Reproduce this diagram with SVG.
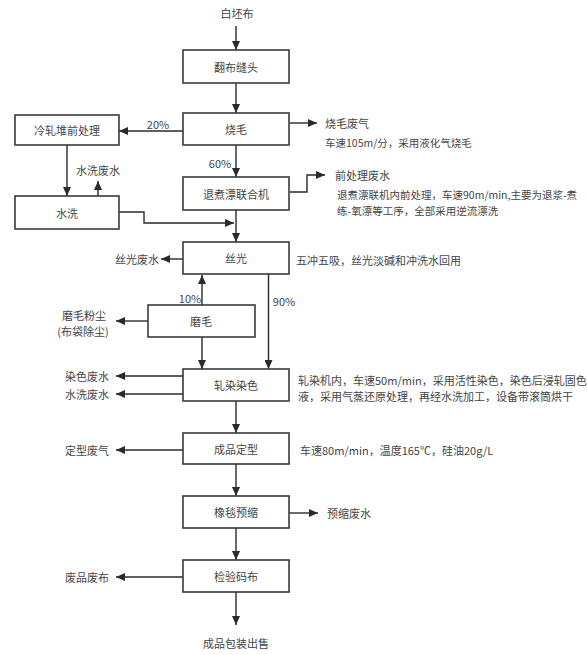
<svg xmlns="http://www.w3.org/2000/svg" width="587" height="655" viewBox="0 0 587 655">
<defs>
<marker id="ah" markerUnits="userSpaceOnUse" markerWidth="9" markerHeight="8" refX="9" refY="4" orient="auto">
<path d="M0,0 L9,4 L0,8 z" fill="#2a2a2a"/>
</marker>
<style>
.box{fill:#fff;stroke:#3a3a3a;stroke-width:1.6}
.c{fill:none;stroke:#2a2a2a;stroke-width:1.4;marker-end:url(#ah)}
text{font-family:"Noto Sans CJK SC","Noto Sans",sans-serif;font-size:11px;fill:#444;dominant-baseline:central}
.m{text-anchor:middle}
.e{text-anchor:end}
.s{font-size:10.5px}
</style>
</defs>
<rect width="587" height="655" fill="#fff"/>
<g id="connectors">
<path class="c" d="M236,26 V50"/>
<path class="c" d="M236,83 V113"/>
<path class="c" d="M183,131 H119"/>
<path class="c" d="M290,123 H317"/>
<path class="c" d="M236,145 V177"/>
<path class="c" d="M290,192 H307 V175 H325"/>
<path class="c" d="M67,145 V196"/>
<path class="c" d="M98,196 V181"/>
<path class="c" d="M119,212 H144 V223 H234"/>
<path class="c" d="M236,210 V242"/>
<path class="c" d="M183,259 H161"/>
<path class="c" d="M202,305 V275"/>
<path class="c" d="M268.5,274 V369"/>
<path class="c" d="M202,337 V369"/>
<path class="c" d="M148,321 H116"/>
<path class="c" d="M183,376 H116"/>
<path class="c" d="M183,394 H116"/>
<path class="c" d="M236,401 V433"/>
<path class="c" d="M183,450 H116"/>
<path class="c" d="M236,464 V496"/>
<path class="c" d="M289,513 H318"/>
<path class="c" d="M236,528 V560"/>
<path class="c" d="M183,577 H116"/>
<path class="c" d="M236,592 V625"/>
<text class="m" x="158" y="124">20%</text>
<text class="m" x="220" y="163">60%</text>
<text class="m" x="190" y="298">10%</text>
<text class="m" x="284" y="301">90%</text>
</g>
<g id="start"><text class="m" x="237" y="13">白坯布</text></g>
<g id="n1"><rect class="box" x="183" y="50" width="106" height="33"/><text class="m" x="236" y="67">翻布缝头</text></g>
<g id="n2"><rect class="box" x="183" y="113" width="106" height="32"/><text class="m" x="236" y="129">烧毛</text></g>
<g id="n2out"><text x="325" y="123">烧毛废气</text><text class="s" x="325" y="142">车速105m/分，采用液化气烧毛</text></g>
<g id="n3"><rect class="box" x="15" y="115" width="104" height="30"/><text class="m" x="67" y="130">冷轧堆前处理</text></g>
<g id="n4"><rect class="box" x="15" y="196" width="104" height="33"/><text class="m" x="67" y="213">水洗</text></g>
<g id="n4out"><text class="m" x="98" y="170">水洗废水</text></g>
<g id="n5"><rect class="box" x="183" y="177" width="106" height="33"/><text class="m" x="236" y="194">退煮漂联合机</text></g>
<g id="n5out"><text x="335" y="175">前处理废水</text><text class="s" x="337" y="194">退煮漂联机内前处理，车速90m/min,主要为退浆-煮</text><text class="s" x="337" y="210">练-氧漂等工序，全部采用逆流漂洗</text></g>
<g id="n6"><rect class="box" x="183" y="242" width="106" height="32"/><text class="m" x="236" y="258">丝光</text></g>
<g id="n6out"><text class="e" x="159" y="259">丝光废水</text><text x="296" y="260">五冲五吸，丝光淡碱和冲洗水回用</text></g>
<g id="n7"><rect class="box" x="148" y="305" width="107" height="32"/><text class="m" x="201" y="321">磨毛</text></g>
<g id="n7out"><text class="m" x="84" y="315">磨毛粉尘</text><text class="m" x="83" y="331">(布袋除尘)</text></g>
<g id="n8"><rect class="box" x="183" y="369" width="106" height="32"/><text class="m" x="236" y="385">轧染染色</text></g>
<g id="n8out"><text class="e" x="109" y="376">染色废水</text><text class="e" x="109" y="394">水洗废水</text><text x="298" y="380">轧染机内，车速50m/min，采用活性染色，染色后浸轧固色</text><text x="298" y="396">液，采用气蒸还原处理，再经水洗加工，设备带滚筒烘干</text></g>
<g id="n9"><rect class="box" x="183" y="433" width="106" height="31"/><text class="m" x="236" y="449">成品定型</text></g>
<g id="n9out"><text class="e" x="109" y="450">定型废气</text><text x="300" y="450">车速80m/min，温度165℃，硅油20g/L</text></g>
<g id="n10"><rect class="box" x="183" y="496" width="106" height="32"/><text class="m" x="236" y="512">橡毯预缩</text></g>
<g id="n10out"><text x="327" y="513">预缩废水</text></g>
<g id="n11"><rect class="box" x="183" y="560" width="106" height="32"/><text class="m" x="236" y="576">检验码布</text></g>
<g id="n11out"><text class="e" x="109" y="577">废品废布</text></g>
<g id="end"><text class="m" x="236" y="643">成品包装出售</text></g>
</svg>
